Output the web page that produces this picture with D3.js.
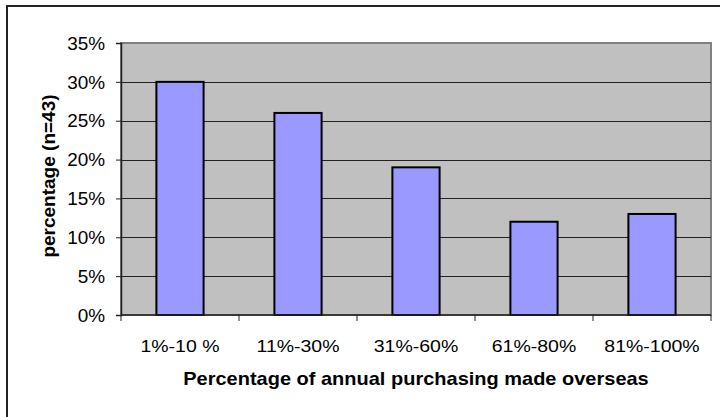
<!DOCTYPE html>
<html><head><meta charset="utf-8">
<script src="https://cdn.jsdelivr.net/npm/d3@7"></script>
<style>body{margin:0;background:#fff}svg{display:block}</style>
</head><body>
<script>
const categories = ["1%-10 %", "11%-30%", "31%-60%", "61%-80%", "81%-100%"];
const values = [30, 26, 19, 12, 13];
const yTicks = [0, 5, 10, 15, 20, 25, 30, 35];
const yTitle = "percentage (n=43)";
const xTitle = "Percentage of annual purchasing made overseas";

const W = 720, H = 417;
const m = {l: 121, r: 9, t: 43, b: 102};
const svg = d3.select("body").append("svg").attr("width", W).attr("height", H);
const font = "Liberation Sans, Arial, sans-serif";

svg.append("rect").attr("x", 7).attr("y", 6).attr("width", 720).attr("height", 420)
  .attr("fill", "#fff").attr("stroke", "#222").attr("stroke-width", 2);

const x = d3.scaleBand().domain(categories).range([m.l, W - m.r]).paddingInner(0.6).paddingOuter(0.3);
const xb = d3.scaleBand().domain(categories).range([m.l, W - m.r]);
const y = d3.scaleLinear().domain([0, 35]).range([H - m.b, m.t]);

svg.append("rect").attr("x", m.l).attr("y", m.t).attr("width", W - m.r - m.l).attr("height", H - m.b - m.t)
  .attr("fill", "#c0c0c0").attr("stroke", "#808080").attr("stroke-width", 2);

svg.append("g").selectAll("line").data(yTicks.filter(d => d > 0 && d < 35)).join("line")
  .attr("x1", m.l).attr("x2", W - m.r).attr("y1", d => Math.round(y(d)) + 0.5).attr("y2", d => Math.round(y(d)) + 0.5)
  .attr("stroke", "#222").attr("stroke-width", 1);

svg.append("g").selectAll("rect").data(values).join("rect")
  .attr("x", (d, i) => x(categories[i])).attr("width", x.bandwidth())
  .attr("y", d => y(d)).attr("height", d => y(0) - y(d))
  .attr("fill", "#9999ff").attr("stroke", "#000").attr("stroke-width", 2);

// y axis
const ya = svg.append("g").attr("transform", `translate(${m.l},0)`)
  .call(d3.axisLeft(y).tickValues(yTicks).tickFormat(d => d + "%").tickSize(5).tickPadding(10));
ya.select(".domain").attr("stroke", "#222").attr("stroke-width", 1.5);
ya.selectAll(".tick line").attr("stroke", "#222");
ya.selectAll(".tick text").attr("x", 0).attr("dy", "0.35em").attr("transform", "translate(-16,0) scale(1.07,1)")
  .attr("font-family", font).attr("font-size", 17.7).attr("fill", "#000");

// x axis
const xa = svg.append("g").attr("transform", `translate(0,${H - m.b})`);
xa.append("line").attr("x1", m.l).attr("x2", W - m.r).attr("stroke", "#222").attr("stroke-width", 1.5);
const bounds = categories.map(c => xb(c)).concat([W - m.r]);
xa.selectAll("line.t").data(bounds).join("line").attr("class", "t")
  .attr("x1", d => d).attr("x2", d => d).attr("y1", 0).attr("y2", 6).attr("stroke", "#222");
xa.selectAll("text").data(categories).join("text")
  .attr("transform", d => `translate(${xb(d) + xb.bandwidth() / 2},37) scale(1.16,1)`)
  .attr("text-anchor", "middle").attr("font-family", font).attr("font-size", 16.8).text(d => d);

svg.append("text").attr("transform", `translate(${(m.l + W - m.r) / 2},385) scale(1.13,1)`).attr("text-anchor", "middle")
  .attr("font-family", font).attr("font-size", 17.7).attr("font-weight", "bold").text(xTitle);
svg.append("text").attr("transform", `translate(55,176) rotate(-90)`).attr("text-anchor", "middle")
  .attr("font-family", font).attr("font-size", 19).attr("font-weight", "bold").text(yTitle);
</script>
</body></html>
